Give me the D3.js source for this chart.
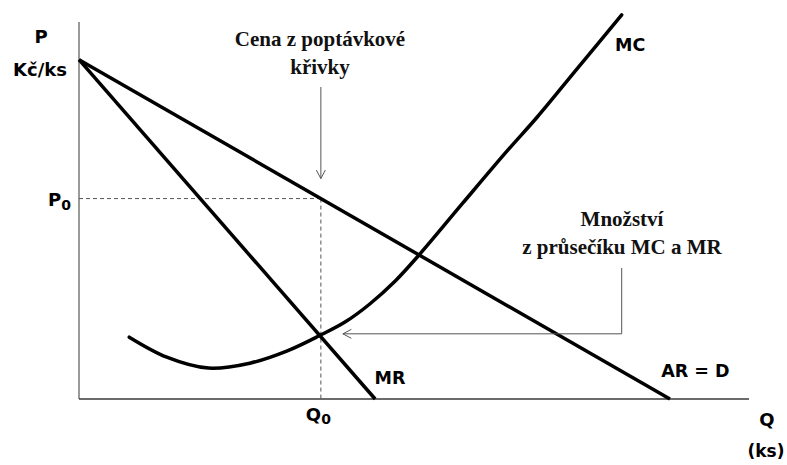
<!DOCTYPE html>
<html>
<head>
<meta charset="utf-8">
<script src="https://cdn.jsdelivr.net/npm/d3@7"></script>
<style>
  html, body { margin: 0; padding: 0; background: #fff; }
  svg { display: block; }
</style>
</head>
<body>
<div id="chart"></div>
<script>
// ---- data (Q in units, P in units) ----
const arPoints = [[0, 90], [88.2, 0]];          // AR = D (demand)
const mrPoints = [[0, 90], [44.2, 0]];          // MR
const mcPoints = [
  [7.5, 16.4], [13.1, 11.1], [19.3, 8.2], [25.5, 9.5], [31.0, 12.7],
  [36.0, 16.9], [39.7, 20.4], [43.4, 25.2], [47.2, 31.3], [50.9, 38.5],
  [57.3, 52.0], [63.9, 65.8], [68.4, 74.8], [74.3, 87.5], [81.0, 101.9]
];
const q0 = 36.1;
const p0 = 90 * (1 - q0 / 88.2);
const curveLabels = [
  { text: "MC", q: 80.0, p: 92.3 },
  { text: "MR", q: 44.1, p: 3.9 },
  { text: "AR = D", q: 86.9, p: 5.9 }
];
const annotation1 = ["Cena z poptávkové", "křivky"];
const annotation2 = ["Množství", "z průsečíku MC a MR"];

// ---- layout ----
const W = 787, H = 465;
const svg = d3.select("#chart").append("svg").attr("width", W).attr("height", H);

const x = d3.scaleLinear().domain([0, 100]).range([79, 749]);
const y = d3.scaleLinear().domain([0, 100]).range([399, 22]);

const sans = "'DejaVu Sans', Verdana, sans-serif";
const serif = "'Liberation Serif', 'Times New Roman', serif";

// arrow marker
svg.append("defs").append("marker")
  .attr("id", "arr").attr("markerUnits", "userSpaceOnUse")
  .attr("viewBox", "-10 -6 12 12").attr("refX", 0).attr("refY", 0)
  .attr("markerWidth", 12).attr("markerHeight", 12).attr("orient", "auto")
  .append("path").attr("d", "M-8.5,-4.5 L0,0 L-8.5,4.5")
  .attr("fill", "none").attr("stroke", "#555").attr("stroke-width", 1);

// axes
svg.append("line").attr("x1", x(0)).attr("x2", x(0)).attr("y1", y(100)).attr("y2", y(0))
  .attr("stroke", "#808080").attr("stroke-width", 1.6);
svg.append("line").attr("x1", x(0)).attr("x2", x(100)).attr("y1", y(0)).attr("y2", y(0))
  .attr("stroke", "#3a3a3a").attr("stroke-width", 1.6);

// dashed guides
svg.append("line").attr("x1", x(0)).attr("x2", x(q0)).attr("y1", y(p0)).attr("y2", y(p0))
  .attr("stroke", "#555").attr("stroke-width", 1).attr("stroke-dasharray", "4,3");
svg.append("line").attr("x1", x(q0)).attr("x2", x(q0)).attr("y1", y(p0)).attr("y2", y(0))
  .attr("stroke", "#555").attr("stroke-width", 1).attr("stroke-dasharray", "4,3");

// curves
const line = d3.line().x(d => x(d[0])).y(d => y(d[1]));
svg.append("path").attr("d", line(arPoints)).attr("fill", "none").attr("stroke", "#000").attr("stroke-width", 3.5);
svg.append("path").attr("d", line(mrPoints)).attr("fill", "none").attr("stroke", "#000").attr("stroke-width", 3.5);
svg.append("path").attr("d", line.curve(d3.curveCatmullRom.alpha(0.5))(mcPoints))
  .attr("fill", "none").attr("stroke", "#000").attr("stroke-width", 3.5).attr("stroke-linecap", "round");

// annotation arrows
svg.append("line").attr("x1", x(q0)).attr("x2", x(q0)).attr("y1", 87).attr("y2", y(p0) - 20)
  .attr("stroke", "#555").attr("stroke-width", 1).attr("marker-end", "url(#arr)");
const mrAtQ0 = 90 * (1 - q0 / 44.2);
svg.append("path")
  .attr("d", `M${x(81.0)},268 V${y(mrAtQ0) - 3} H${x(q0) + 22}`)
  .attr("fill", "none").attr("stroke", "#555").attr("stroke-width", 1).attr("marker-end", "url(#arr)");

// axis labels
const lab = (t, xx, yy, size, anchor) => svg.append("text").attr("x", xx).attr("y", yy)
  .attr("font-family", sans).attr("font-weight", "bold").attr("font-size", size)
  .attr("text-anchor", anchor || "start").attr("fill", "#000").text(t);
lab("P", 41, 43, 18, "middle");
lab("Kč/ks", 40, 76, 18, "middle");
lab("Q", 767, 426, 18, "middle");
lab("(ks)", 766, 457, 17, "middle");

const p0t = svg.append("text").attr("x", 48).attr("y", 206)
  .attr("font-family", sans).attr("font-weight", "bold").attr("font-size", 18).attr("fill", "#000");
p0t.append("tspan").text("P");
p0t.append("tspan").attr("font-size", 14).attr("dy", 4).text("0");

const q0t = svg.append("text").attr("x", x(q0) - 15).attr("y", 421)
  .attr("font-family", sans).attr("font-weight", "bold").attr("font-size", 18).attr("fill", "#000");
q0t.append("tspan").text("Q");
q0t.append("tspan").attr("font-size", 14).attr("dy", 3).text("0");

curveLabels.forEach(d => lab(d.text, x(d.q), y(d.p), 17.5, "start"));

// serif annotations
const ser = (t, xx, yy) => svg.append("text").attr("x", xx).attr("y", yy)
  .attr("font-family", serif).attr("font-weight", "bold").attr("font-size", 21)
  .attr("text-anchor", "middle").attr("fill", "#111").text(t);
ser(annotation1[0], 320, 46);
ser(annotation1[1], 320, 74);
ser(annotation2[0], 622, 226);
ser(annotation2[1], 622, 254);
</script>
</body>
</html>
